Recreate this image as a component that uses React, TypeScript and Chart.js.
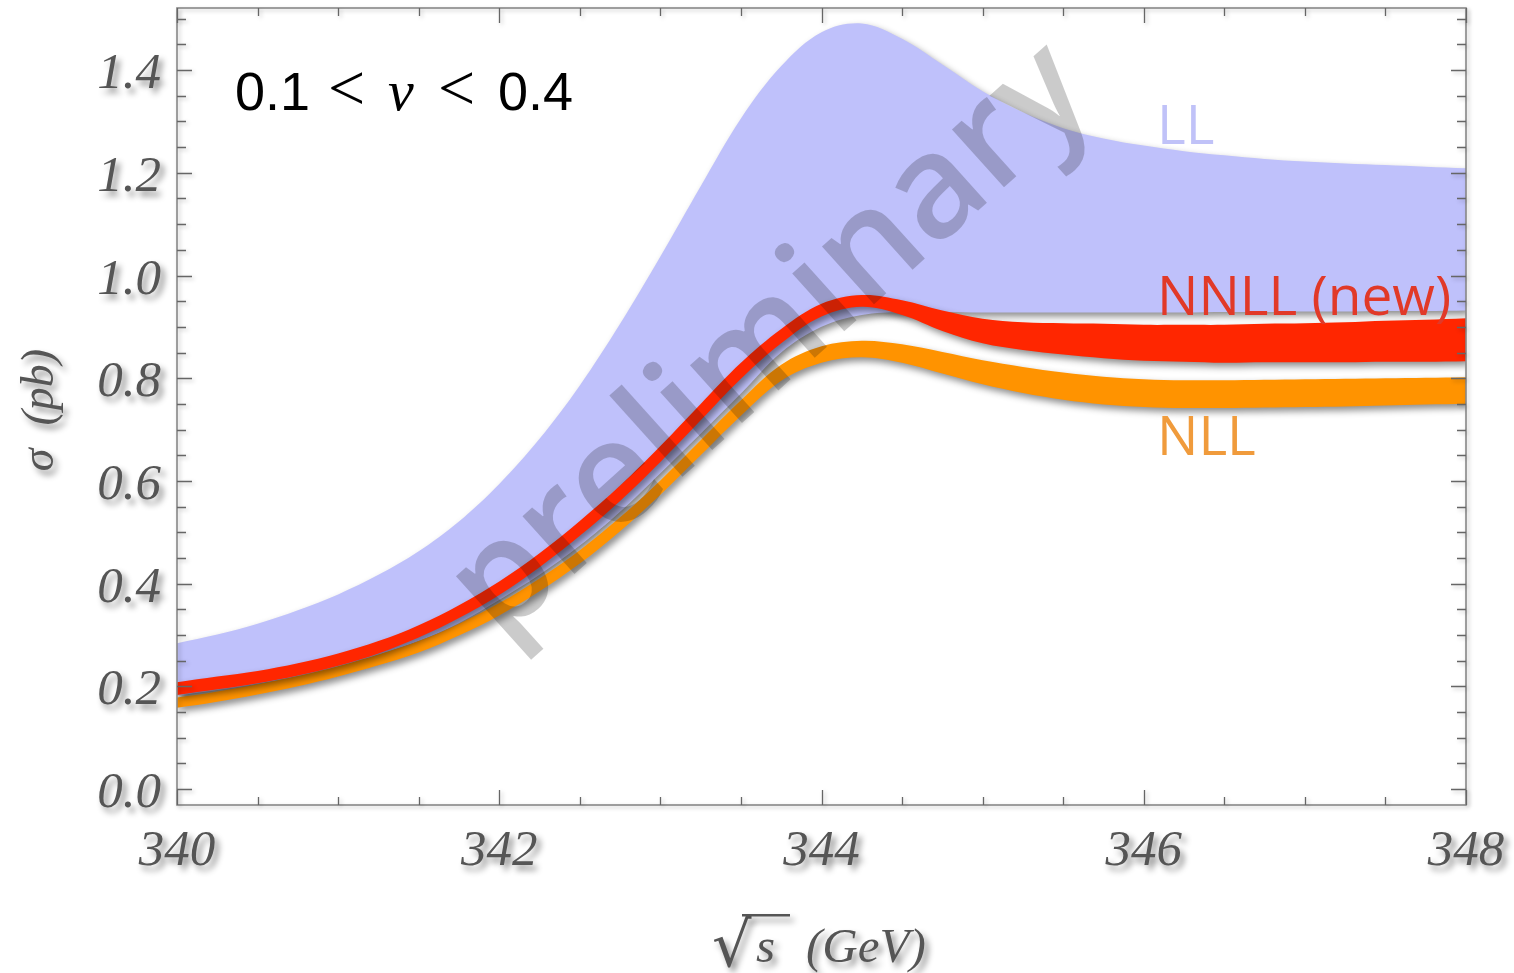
import React, { useEffect, useRef } from "react";
import { Chart, registerables } from "chart.js";

Chart.register(...registerables);

// ---- data ----
const sqrtS = [340, 340.25, 340.5, 340.75, 341, 341.25, 341.5, 341.75, 342, 342.25, 342.5, 342.75, 343, 343.25, 343.5, 343.75, 344, 344.25, 344.5, 344.75, 345, 345.25, 345.5, 345.75, 346, 346.25, 346.5, 346.75, 347, 347.25, 347.5, 347.75, 348];

const llUpper = [0.284, 0.301, 0.322, 0.348, 0.379, 0.417, 0.463, 0.521, 0.594, 0.682, 0.786, 0.906, 1.037, 1.174, 1.306, 1.408, 1.474, 1.491, 1.461, 1.411, 1.359, 1.318, 1.287, 1.267, 1.253, 1.242, 1.234, 1.227, 1.222, 1.218, 1.215, 1.212, 1.209];
const llLower = [0.182, 0.193, 0.205, 0.219, 0.238, 0.261, 0.288, 0.323, 0.368, 0.417, 0.474, 0.540, 0.615, 0.692, 0.770, 0.850, 0.900, 0.923, 0.929, 0.929, 0.928, 0.928, 0.928, 0.928, 0.928, 0.928, 0.929, 0.929, 0.930, 0.930, 0.931, 0.931, 0.932];

const nnllUpper = [0.208, 0.219, 0.230, 0.245, 0.264, 0.288, 0.319, 0.358, 0.404, 0.459, 0.522, 0.591, 0.668, 0.750, 0.830, 0.896, 0.945, 0.962, 0.952, 0.932, 0.916, 0.909, 0.907, 0.906, 0.904, 0.904, 0.904, 0.906, 0.907, 0.909, 0.912, 0.914, 0.917];
const nnllLower = [0.183, 0.194, 0.206, 0.221, 0.240, 0.264, 0.295, 0.333, 0.378, 0.432, 0.493, 0.561, 0.637, 0.718, 0.799, 0.868, 0.920, 0.939, 0.923, 0.892, 0.868, 0.855, 0.846, 0.839, 0.834, 0.832, 0.830, 0.831, 0.831, 0.831, 0.832, 0.832, 0.833];

const nllUpper = [0.178, 0.190, 0.204, 0.220, 0.239, 0.262, 0.288, 0.322, 0.362, 0.410, 0.465, 0.529, 0.601, 0.679, 0.757, 0.826, 0.862, 0.873, 0.866, 0.851, 0.835, 0.822, 0.811, 0.803, 0.798, 0.796, 0.796, 0.797, 0.798, 0.799, 0.800, 0.801, 0.802];
const nllLower = [0.158, 0.170, 0.184, 0.200, 0.219, 0.241, 0.266, 0.299, 0.338, 0.385, 0.439, 0.502, 0.573, 0.650, 0.727, 0.795, 0.830, 0.841, 0.830, 0.809, 0.788, 0.771, 0.758, 0.749, 0.744, 0.742, 0.742, 0.743, 0.744, 0.745, 0.747, 0.749, 0.750];

const xMajorTicks = [340, 342, 344, 346, 348];
const xTickLabels = ["340", "342", "344", "346", "348"];
const yMajorTicks = [0, 0.2, 0.4, 0.6, 0.8, 1.0, 1.2, 1.4];
const yTickLabels = ["0.0", "0.2", "0.4", "0.6", "0.8", "1.0", "1.2", "1.4"];
const xMinorStep = 0.5;
const yMinorStep = 0.05;

const seriesNames = ["LL", "NNLL (new)", "NLL"];

const COL_LL = "rgb(191,193,251)";
const COL_NNLL = "rgb(255,38,0)";
const COL_NLL = "rgb(255,147,0)";

const pts = (ys: number[]) => sqrtS.map((x, i) => ({ x, y: ys[i] }));

const lineBase = {
  borderWidth: 0,
  borderColor: "rgba(0,0,0,0)",
  pointRadius: 0,
  tension: 0.35,
};

const mmaPlugin = {
  id: "mmaStyle",
  beforeDatasetsDraw(chart: any) {
    const ctx = chart.ctx;
    ctx.save();
    ctx.shadowColor = "rgba(0,0,0,0.45)";
    ctx.shadowBlur = 7;
    ctx.shadowOffsetX = 3;
    ctx.shadowOffsetY = 4;
  },
  afterDatasetsDraw(chart: any) {
    chart.ctx.restore();
  },
  afterDraw(chart: any) {
    const ctx: CanvasRenderingContext2D = chart.ctx;
    const xs = chart.scales.x;
    const ys = chart.scales.y;
    const a = chart.chartArea;

    // frame + ticks
    ctx.save();
    ctx.shadowColor = "rgba(0,0,0,0.25)";
    ctx.shadowBlur = 4;
    ctx.shadowOffsetX = 2;
    ctx.shadowOffsetY = 2;
    ctx.strokeStyle = "#888";
    ctx.lineWidth = 1.6;
    ctx.strokeRect(a.left, a.top, a.right - a.left, a.bottom - a.top);
    ctx.strokeStyle = "#666";
    ctx.lineWidth = 1.3;
    ctx.beginPath();
    for (let v = xs.min; v <= xs.max + 1e-9; v += xMinorStep) {
      const px = Math.round(xs.getPixelForValue(v)) + 0.5;
      const major = xMajorTicks.some((t) => Math.abs(t - v) < 1e-6);
      const len = major ? 15 : 8;
      ctx.moveTo(px, a.bottom);
      ctx.lineTo(px, a.bottom - len);
      ctx.moveTo(px, a.top);
      ctx.lineTo(px, a.top + len);
    }
    for (let k = 0; k * yMinorStep <= ys.max + 1e-9; k++) {
      const v = k * yMinorStep;
      const py = Math.round(ys.getPixelForValue(v)) + 0.5;
      const major = yMajorTicks.some((t) => Math.abs(t - v) < 1e-6);
      const len = major ? 15 : 9;
      ctx.moveTo(a.left, py);
      ctx.lineTo(a.left + len, py);
      ctx.moveTo(a.right, py);
      ctx.lineTo(a.right - len, py);
    }
    ctx.stroke();
    ctx.restore();

    // tick labels & axis titles
    ctx.save();
    ctx.shadowColor = "rgba(0,0,0,0.45)";
    ctx.shadowBlur = 6;
    ctx.shadowOffsetX = 4;
    ctx.shadowOffsetY = 5;
    ctx.fillStyle = "#555";
    ctx.font = 'italic 51px "Liberation Serif"';
    ctx.textBaseline = "alphabetic";
    ctx.textAlign = "right";
    yMajorTicks.forEach((v, i) => {
      ctx.fillText(yTickLabels[i], a.left - 16, ys.getPixelForValue(v) + 18);
    });
    ctx.textAlign = "center";
    xMajorTicks.forEach((v, i) => {
      ctx.fillText(xTickLabels[i], xs.getPixelForValue(v), a.bottom + 60);
    });

    // x title: sqrt(s) (GeV)
    ctx.font = 'italic 49px "Liberation Serif"';
    ctx.textAlign = "left";
    ctx.fillText("(GeV)", 806, 962);
    ctx.fillText("s", 756, 962);
    ctx.font = '62px "DejaVu Serif"';
    ctx.fillText("\u221A", 712, 966);
    ctx.fillRect(742, 914, 48, 2.5);

    // y title
    ctx.font = 'italic 46px "Liberation Serif"';
    ctx.textAlign = "center";
    ctx.translate(53, 410);
    ctx.rotate(-Math.PI / 2);
    ctx.fillText("\u03C3  (pb)", 0, 0);
    ctx.restore();

    // header 0.1 < nu < 0.4
    ctx.save();
    ctx.fillStyle = "#000";
    ctx.textBaseline = "alphabetic";
    ctx.textAlign = "left";
    ctx.font = '54px "Liberation Sans"';
    ctx.fillText("0.1", 235, 110);
    ctx.fillText("0.4", 498, 110);
    ctx.font = '66px "Liberation Serif"';
    ctx.fillText("<", 328, 110);
    ctx.fillText("<", 438, 110);
    ctx.font = 'italic 58px "Liberation Serif"';
    ctx.fillText("\u03BD", 388, 110);

    // series labels
    ctx.font = '55px "Open Sans"';
    ctx.fillStyle = "rgb(192,194,248)";
    ctx.fillText(seriesNames[0], 1157, 144);
    ctx.fillStyle = "rgb(225,57,40)";
    ctx.fillText(seriesNames[1], 1157, 315);
    ctx.fillStyle = "rgb(240,155,60)";
    ctx.fillText(seriesNames[2], 1157, 455);
    ctx.restore();

    // watermark
    ctx.save();
    ctx.fillStyle = "rgba(20,20,20,0.22)";
    ctx.font = '600 144px "Open Sans"';
    ctx.textAlign = "center";
    ctx.textBaseline = "alphabetic";
    ctx.translate(799, 372);
    ctx.rotate((-42 * Math.PI) / 180);
    ctx.fillText("preliminary", 0, 0);
    ctx.restore();
  },
};

export default function App() {
  const ref = useRef<HTMLCanvasElement | null>(null);
  useEffect(() => {
    if (!ref.current) return;
    const chart = new Chart(ref.current, {
      type: "line",
      data: {
        datasets: [
          { ...lineBase, label: "NNLL lower", data: pts(nnllLower), fill: false },
          { ...lineBase, label: "NNLL (new)", data: pts(nnllUpper), fill: "-1", backgroundColor: COL_NNLL },
          { ...lineBase, label: "NLL lower", data: pts(nllLower), fill: false },
          { ...lineBase, label: "NLL", data: pts(nllUpper), fill: "-1", backgroundColor: COL_NLL },
          { ...lineBase, label: "LL lower", data: pts(llLower), fill: false },
          { ...lineBase, label: "LL", data: pts(llUpper), fill: "-1", backgroundColor: COL_LL },
        ],
      } as any,
      options: {
        animation: false,
        responsive: false,
        events: [],
        layout: { padding: { left: 177, top: 8, right: 48, bottom: 168 } },
        plugins: { legend: { display: false }, tooltip: { enabled: false } },
        scales: {
          x: { type: "linear", min: 340, max: 348, display: false },
          y: { type: "linear", min: -0.0312, max: 1.521, display: false },
        },
      } as any,
      plugins: [mmaPlugin],
    });
    return () => chart.destroy();
  }, []);
  return (
    <div style={{ position: "absolute", left: 0, top: 0, width: 1514, height: 973, background: "#fff" }}>
      <canvas ref={ref} width={1514} height={973} style={{ width: 1514, height: 973 }} />
    </div>
  );
}
